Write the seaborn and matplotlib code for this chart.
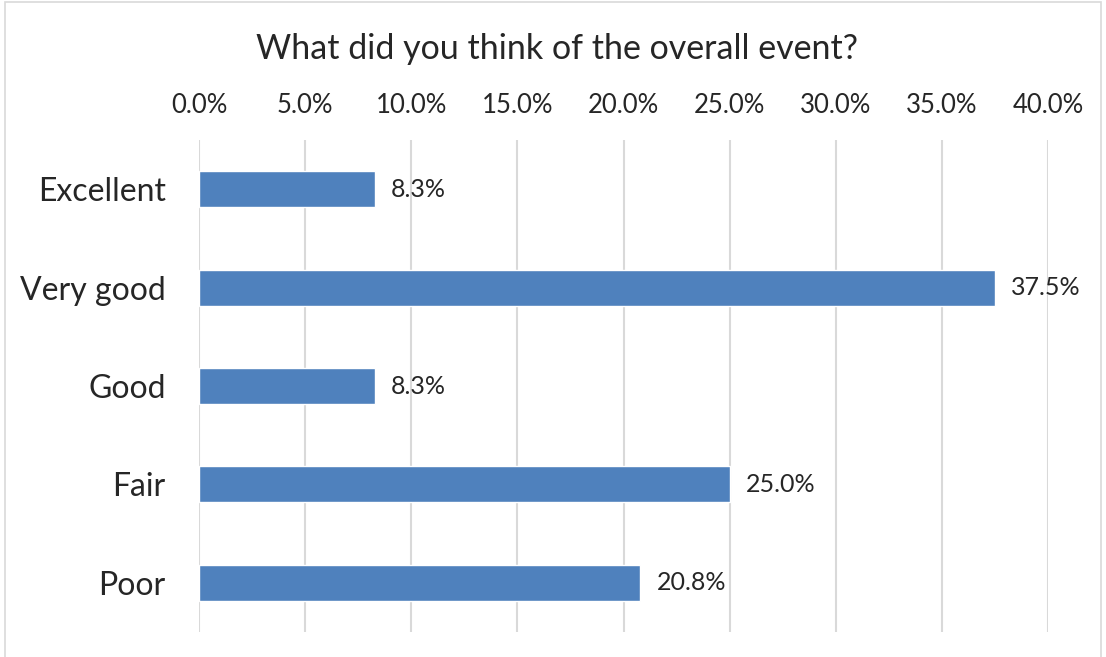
import matplotlib
matplotlib.use("Agg")
import matplotlib.pyplot as plt
import seaborn as sns
import pandas as pd
from matplotlib.patches import Rectangle

# Survey results
categories = ["Excellent", "Very good", "Good", "Fair", "Poor"]
shares = [8.3, 37.5, 8.3, 25.0, 20.8]
ticks = [0, 5, 10, 15, 20, 25, 30, 35, 40]

df = pd.DataFrame({"Rating": categories, "Share": shares})

sns.set_style("white")
plt.rcParams["font.family"] = ["Lato", "DejaVu Sans"]

fig = plt.figure(figsize=(11.06, 6.57), dpi=100)
ax = fig.add_axes([0.1799, 0.038, 0.7677, 0.7489])

sns.barplot(data=df, x="Share", y="Rating", orient="h", color="#4F81BD",
            saturation=1, width=0.365, ax=ax, zorder=3)

ax.set_xlim(0, 40)
ax.set_ylim(4.5, -0.5)
ax.set_xticks(ticks)
ax.set_xticklabels([f"{t:.1f}%" for t in ticks], fontsize=18.5)
ax.xaxis.tick_top()
ax.tick_params(axis="x", length=0, pad=16)
ax.tick_params(axis="y", length=0, pad=24, labelsize=23)
ax.grid(axis="x", color="#D9D9D9", linewidth=1.5, zorder=0)
ax.set_axisbelow(True)
for s in ax.spines.values():
    s.set_visible(False)
ax.set_xlabel("")
ax.set_ylabel("")

for i, v in enumerate(shares):
    ax.text(v + 0.75, i, f"{v:.1f}%", va="center", ha="left", fontsize=18)

fig.text(0.5035, 0.925, "What did you think of the overall event?",
         ha="center", va="center", fontsize=24.5)

# light frame around the chart
fig.patches.append(Rectangle((0.0045, -0.01), 0.9910, 1.007, transform=fig.transFigure,
                             fill=False, edgecolor="#D9D9D9", linewidth=1.2))

fig.savefig("out.png", dpi=100)
